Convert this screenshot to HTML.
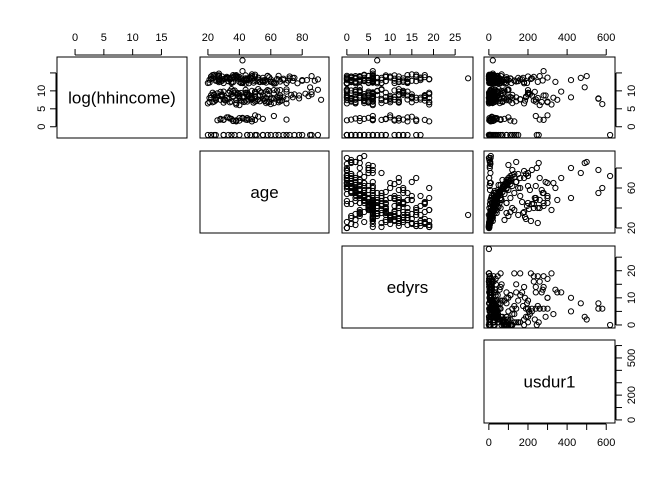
<!DOCTYPE html>
<html><head><meta charset="utf-8">
<style>
html,body{margin:0;padding:0;background:#fff;}
svg{display:block;font-family:"Liberation Sans",Arial,sans-serif;}
</style></head>
<body>
<svg id="chart" width="672" height="480" viewBox="0 0 672 480"></svg>
<script>
const varNames = ["log(hhincome)","age","edyrs","usdur1"];
const varRanges = [[-2.3,18.6],[18,94],[0,28],[0,620]];
const topTicks = [[0,5,10,15],[20,40,60,80],[0,5,10,15,20,25],[0,200,400,600]];
const sideTicks = [[0,5,10,15],[20,40,60,80],[0,5,10,15,20,25],[0,100,200,300,400,500,600]];
const sideLabels = [[0,5,10],[20,60],[0,10,20],[0,200,500]];
const bottomTicks = [0,100,200,300,400,500,600];
const bottomLabels = [0,200,400,600];

const loginc = [
-2.3,-2.3,-2.3,-2.3,-2.3,-2.3,-2.3,-2.3,-2.3,-2.3,-2.3,-2.3,-2.3,-2.3,-2.3,-2.3,-2.3,-2.3,-2.3,-2.3,
12.2,13.5,14.3,12.8,13.9,12.5,14.1,13.2,12.0,13.7,14.5,12.6,13.0,13.8,12.3,14.2,13.4,12.9,13.6,12.1,
13.1,14.0,12.4,13.3,12.7,14.4,13.9,12.2,13.5,14.6,12.8,13.0,14.1,12.5,13.7,15.5,14.8,13.2,12.6,14.0,
6.5,7.0,7.5,8.0,8.5,9.0,9.5,10.0,10.5,7.2,7.8,8.3,8.8,9.3,9.8,6.8,7.4,8.1,8.6,9.1,
9.6,10.2,6.6,7.1,7.7,8.2,8.7,9.2,9.7,10.3,6.9,7.6,8.4,9.4,10.1,7.3,8.9,6.7,9.9,8.0,
6.0,7.0,7.5,8.2,7.8,6.3,7.6,8.1,6.5,9.0,
1.8,2.0,2.3,1.6,2.5,2.1,1.9,2.2,2.6,1.7,2.4,2.0,1.5,2.8,2.2,3.0,2.0,1.9,3.2,1.5,
12.8,13.2,9.0,8.5,7.5,13.0,12.2,8.0,9.5,7.0,8.7,12.5,6.8,9.8,13.6,7.9,11.0,8.2,7.3,6.2,
13.5,18.5,
12.3,13.1,13.8,14.2,12.7,13.4,12.1,14.0,13.6,12.9,
13.3,12.5,14.4,13.0,12.2,13.9,12.8,14.1,13.5,12.6,
8.1,9.3,7.2,10.1,8.6,6.9,9.8,7.7,8.9,10.4,
7.4,8.4,9.6,6.7,8.0,9.1,7.9,10.2,8.8,7.1,
13.7,12.4,14.3,13.2,12.0,13.6,14.0,12.8,13.4,12.3,
9.0,7.6,8.3,10.0,6.8,9.4,8.7,7.3,9.9,8.2,
12.9,13.8,12.6,14.2,13.1,12.2,13.5,14.5,12.7,13.9,
7.0,8.5,9.7,7.8,10.3,8.0,6.6,9.2,8.9,7.5,
13.0,12.5,14.1,13.7,12.3,13.3,12.8,14.4,13.6,12.1,
8.6,9.5,7.1,10.0,8.2,7.7,9.1,6.9,8.4,9.8,
13.4,12.9,14.0,12.4,13.8,13.1,12.6,14.3,12.2,13.5,
7.9,9.0,8.3,10.5,7.4,8.8,9.6,6.6,8.1,9.3,
1.9,2.2,1.7,2.4,2.0,2.6,1.8,2.1,2.3,1.6,
-2.3,-2.3,-2.3,-2.3,-2.3,-2.3,-2.3,-2.3,-2.3,-2.3,
12.7,13.2,8.4,9.1,13.9,7.6,12.4,10.2,13.5,8.0,
14.1,7.3,12.9,9.4,13.3,8.7,12.2,6.9,13.6,9.7];
const age = [
20,25,30,35,40,45,50,55,60,65,70,75,80,85,90,72,22,33,47,58,
20,23,26,29,32,35,38,41,44,47,50,53,56,59,62,65,68,71,74,77,
21,24,27,30,33,36,39,42,45,48,80,83,86,40,52,42,27,60,66,72,
20,24,28,32,36,40,44,48,52,56,60,64,22,26,30,34,38,42,46,50,
54,58,62,66,70,74,78,82,86,90,21,25,29,33,37,41,45,49,53,57,
40,45,48,50,55,60,48,65,70,75,
26,30,34,38,42,46,50,28,32,36,40,44,48,52,55,62,70,45,50,38,
88,90,86,84,92,80,35,40,45,50,55,60,65,70,75,78,85,66,44,38,
33,42,
21,34,47,58,26,39,63,29,52,44,
31,55,23,68,41,36,49,27,72,60,
22,37,51,64,28,43,57,33,46,70,
25,40,54,30,61,35,48,66,24,42,
38,53,27,45,62,32,50,74,22,57,
29,46,36,59,23,41,53,67,34,48,
43,26,56,37,65,30,48,24,51,39,
35,50,28,62,44,21,57,39,73,31,
27,42,58,33,49,64,25,38,55,46,
40,23,53,36,68,30,45,59,26,50,
34,47,22,61,39,52,28,44,70,31,
56,24,43,35,65,29,50,38,47,62,
30,35,40,45,28,33,38,48,42,36,
24,37,51,63,78,86,30,45,68,55,
33,46,29,58,40,52,36,62,44,25,
48,31,55,39,27,66,42,58,35,50];
const edyrs = [
0,12,6,9,14,3,11,7,1,4,2,5,0,1,3,0,16,17,8,13,
0,2,4,6,1,3,5,6,0,2,4,6,1,3,5,0,2,4,1,0,
8,10,12,14,16,18,9,11,13,15,3,5,2,7,17,6,6,19,12,1,
0,1,2,3,4,5,6,7,8,9,10,11,12,13,14,15,16,17,18,19,
0,2,4,6,1,3,5,6,2,0,19,17,15,13,11,9,7,5,3,1,
6,6,12,10,8,6,14,4,2,6,
0,1,2,3,5,6,8,9,10,11,12,13,14,15,4,6,16,18,10,19,
1,3,2,0,4,5,8,6,9,12,14,13,10,12,8,6,3,15,18,19,
28,7,
6,3,0,5,9,6,2,12,4,1,
6,1,14,0,5,3,11,6,0,2,
16,6,4,1,10,5,2,6,13,0,
8,6,3,12,0,6,15,2,18,5,
6,2,11,4,0,7,3,1,17,6,
12,5,9,0,19,6,3,1,7,4,
5,18,2,6,1,14,6,16,4,9,
6,4,13,1,8,19,2,6,0,11,
17,6,3,10,5,0,15,6,2,7,
6,19,4,13,0,10,6,2,18,5,
11,6,16,1,6,3,14,9,0,6,
2,15,6,12,0,18,6,8,4,1,
6,9,12,3,11,14,6,9,12,16,
6,9,4,2,0,1,13,12,3,6,
9,12,6,4,16,11,14,3,6,18,
6,10,13,5,19,3,8,12,7,2];
const usdur1 = [
0,5,20,40,60,90,110,130,150,10,2,8,245,255,1,620,3,15,25,6,
2,5,10,15,20,30,40,50,25,8,12,60,70,90,4,6,110,130,150,180,
1,3,7,12,18,24,30,45,55,65,5,100,500,250,300,280,20,160,140,200,
1,3,6,10,15,20,30,40,50,70,90,110,2,4,8,12,25,35,45,60,
80,100,120,140,160,190,220,5,7,9,0,2,4,6,8,10,15,20,25,30,
260,300,350,420,560,580,240,330,180,200,
2,5,10,20,30,40,60,80,100,110,3,6,9,15,25,240,260,280,300,130,
3,1,5,8,10,420,90,120,200,240,280,340,300,370,470,560,490,140,230,320,
0,20,
3,12,30,45,6,20,60,8,40,25,
10,50,2,90,28,15,35,5,110,70,
1,22,38,80,7,30,55,14,33,100,
4,25,48,9,75,16,36,95,3,26,
18,42,6,32,85,11,40,130,2,58,
8,30,17,65,1,24,44,105,13,35,
27,5,52,19,88,9,37,2,46,21,
14,40,7,78,31,0,56,20,120,10,
6,28,62,12,39,92,3,18,50,33,
22,1,47,16,100,8,31,70,4,41,
13,36,0,80,20,43,7,29,115,11,
55,2,26,15,90,6,40,19,34,72,
5,14,26,40,8,16,22,60,35,12,
2,10,30,50,120,140,6,90,70,35,
150,170,190,210,230,160,180,200,220,250,
260,185,275,205,215,290,195,270,175,235];
const dataVars = [loginc, age, edyrs, usdur1];

const cols = [[57,187],[200,329],[342,473],[484,615]];
const rows = [[57,138],[151,233],[246,328],[340,423]];
const NS = "http://www.w3.org/2000/svg";
const svg = document.getElementById("chart");
function mk(tag, attrs, parent){
  const e = document.createElementNS(NS, tag);
  for (const k in attrs) e.setAttribute(k, attrs[k]);
  (parent||svg).appendChild(e);
  return e;
}
function scaleX(v, j){
  const [a,b] = varRanges[j], pad=(b-a)*0.04, [l,r]=cols[j];
  return l + (v-(a-pad))/((b+pad)-(a-pad))*(r-l);
}
function scaleY(v, i){
  const [a,b] = varRanges[i], pad=(b-a)*0.04, [t,bt]=rows[i];
  return bt - (v-(a-pad))/((b+pad)-(a-pad))*(bt-t);
}

for (let i=0;i<4;i++){
  for (let j=i;j<4;j++){
    const g = mk("g",{});
    
    
    const [l,r]=cols[j],[t,b]=rows[i];
    mk("rect",{x:l,y:t,width:r-l,height:b-t,fill:"none",stroke:"#000","stroke-width":1},g);
    if (i===j){
      const tx = mk("text",{x:(l+r)/2,y:(t+b)/2+6,"text-anchor":"middle","font-size":17,fill:"#000"},g);
      tx.textContent = varNames[i];
      
      
    } else {
      const xs = dataVars[j], ys = dataVars[i];
      for (let k=0;k<xs.length;k++){
        const c = mk("circle",{cx:scaleX(xs[k],j).toFixed(1),cy:scaleY(ys[k],i).toFixed(1),r:2.6,fill:"none",stroke:"#000","stroke-width":1},g);
        
        
      }
    }
  }
}

for (let j=0;j<4;j++){
  const g = mk("g",{});
  
  
  const y0 = rows[0][0];
  const tk = topTicks[j];
  mk("line",{x1:scaleX(tk[0],j),x2:scaleX(tk[tk.length-1],j),y1:y0-2,y2:y0-2,stroke:"#000"},g);
  tk.forEach(v=>{
    const x=scaleX(v,j);
    mk("line",{x1:x,x2:x,y1:y0-2,y2:y0-8,stroke:"#000"},g);
    const t=mk("text",{x:x,y:y0-16,"text-anchor":"middle","font-size":11},g);
    t.textContent=v;
  });
}
for (let i=0;i<4;i++){
  const g = mk("g",{});
  
  
  const x0 = cols[3][1];
  const tk = sideTicks[i];
  mk("line",{x1:x0+1,x2:x0+1,y1:scaleY(tk[0],i),y2:scaleY(tk[tk.length-1],i),stroke:"#000"},g);
  tk.forEach(v=>{
    const y=scaleY(v,i);
    mk("line",{x1:x0+1,x2:x0+7,y1:y,y2:y,stroke:"#000"},g);
  });
  sideLabels[i].forEach(v=>{
    const y=scaleY(v,i);
    const t=mk("text",{x:0,y:0,"text-anchor":"middle","font-size":11,transform:`translate(${x0+20},${y}) rotate(-90)`},g);
    t.textContent=v;
  });
}
{
  const g = mk("g",{});
  
  
  const x0 = cols[0][0];
  const tk = sideTicks[0];
  mk("line",{x1:x0-1,x2:x0-1,y1:scaleY(tk[0],0),y2:scaleY(tk[tk.length-1],0),stroke:"#000"},g);
  tk.forEach(v=>{ const y=scaleY(v,0); mk("line",{x1:x0-1,x2:x0-7,y1:y,y2:y,stroke:"#000"},g); });
  sideLabels[0].forEach(v=>{
    const y=scaleY(v,0);
    const t=mk("text",{x:0,y:0,"text-anchor":"middle","font-size":11,transform:`translate(${x0-12},${y}) rotate(-90)`},g);
    t.textContent=v;
  });
}
{
  const g = mk("g",{});
  
  
  const y0 = rows[3][1];
  mk("line",{x1:scaleX(bottomTicks[0],3),x2:scaleX(bottomTicks[bottomTicks.length-1],3),y1:y0+1,y2:y0+1,stroke:"#000"},g);
  bottomTicks.forEach(v=>{ const x=scaleX(v,3); mk("line",{x1:x,x2:x,y1:y0+1,y2:y0+7,stroke:"#000"},g); });
  bottomLabels.forEach(v=>{
    const t=mk("text",{x:scaleX(v,3),y:y0+23,"text-anchor":"middle","font-size":11},g);
    t.textContent=v;
  });
}
</script>
</body></html>
